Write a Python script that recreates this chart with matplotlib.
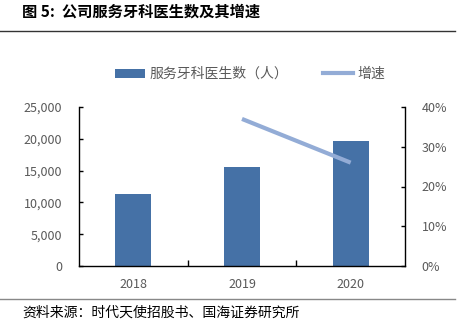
import matplotlib
matplotlib.use("Agg")
import matplotlib.pyplot as plt
from matplotlib.ticker import FuncFormatter, MultipleLocator
from matplotlib.lines import Line2D
from matplotlib.patches import Patch
import numpy as np

plt.rcParams['font.family'] = ['Noto Sans CJK SC', 'DejaVu Sans']

years = ["2018", "2019", "2020"]
dentists = [11300, 15600, 19650]
growth_years = ["2019", "2020"]
growth = [0.37, 0.26]

title = "图 5:  公司服务牙科医生数及其增速"
source = "资料来源：时代天使招股书、国海证券研究所"
bar_label = "服务牙科医生数（人）"
line_label = "增速"

bar_color = "#4571A6"
line_color = "#93ACD6"
text_gray = "#595959"

W, H = 461, 334
fig = plt.figure(figsize=(W / 100, H / 100), dpi=100)

ax = fig.add_axes([79 / W, 1 - 266 / H, (405 - 79) / W, (266 - 107) / H])
x = np.arange(len(years))
ax.bar(x, dentists, width=0.33, color=bar_color, zorder=2)
ax.set_xlim(-0.5, len(years) - 0.5)
ax.set_ylim(0, 25000)
ax.yaxis.set_major_locator(MultipleLocator(5000))
ax.yaxis.set_major_formatter(FuncFormatter(lambda v, p: f"{int(v):,}"))
ax.set_xticks(x)
ax.set_xticklabels(years)
ax.set_xticks(np.arange(0.5, len(years) - 0.5, 1.0), minor=True)
ax.tick_params(axis='x', which='major', length=0, pad=9, labelsize=9, labelcolor=text_gray)
ax.tick_params(axis='x', which='minor', direction='in', length=4, width=1, color='black')
ax.tick_params(axis='y', direction='in', length=3, width=1, labelsize=9,
               labelcolor=text_gray, pad=12)
for s in ['top', 'right']:
    ax.spines[s].set_visible(False)
ax.spines['left'].set_linewidth(1)
ax.spines['bottom'].set_linewidth(1)

ax2 = ax.twinx()
gx = [years.index(y) for y in growth_years]
ax2.plot(gx, growth, color=line_color, linewidth=3, solid_capstyle='butt', zorder=3)
ax2.set_ylim(0, 0.40)
ax2.yaxis.set_major_locator(MultipleLocator(0.10))
ax2.yaxis.set_major_formatter(FuncFormatter(lambda v, p: f"{v * 100:.0f}%"))
ax2.tick_params(axis='y', direction='in', length=3, width=1, labelsize=9,
                labelcolor=text_gray, pad=12)
for s in ['top', 'left', 'bottom']:
    ax2.spines[s].set_visible(False)
ax2.spines['right'].set_linewidth(1)

handles = [Patch(facecolor=bar_color, edgecolor='none'),
           Line2D([0], [0], color=line_color, linewidth=3)]
fig.legend(handles, [bar_label, line_label], loc='center', ncol=2,
           bbox_to_anchor=(250 / W, 1 - 74 / H), frameon=False,
           fontsize=10, labelcolor=text_gray, handlelength=2.2,
           handleheight=0.6, handletextpad=0.3, columnspacing=2.5)

fig.text(22 / W, 1 - 12 / H, title, fontsize=11, fontweight='bold',
         va='center', ha='left', color='black')
fig.add_artist(Line2D([0, 455 / W], [1 - 31 / H, 1 - 31 / H], color='#333333', linewidth=1))
fig.add_artist(Line2D([0, 455 / W], [1 - 299 / H, 1 - 299 / H], color='#888888', linewidth=1))
fig.text(22 / W, 1 - 313 / H, source, fontsize=10, va='center', ha='left', color='black')

fig.savefig("out.png", dpi=100)
